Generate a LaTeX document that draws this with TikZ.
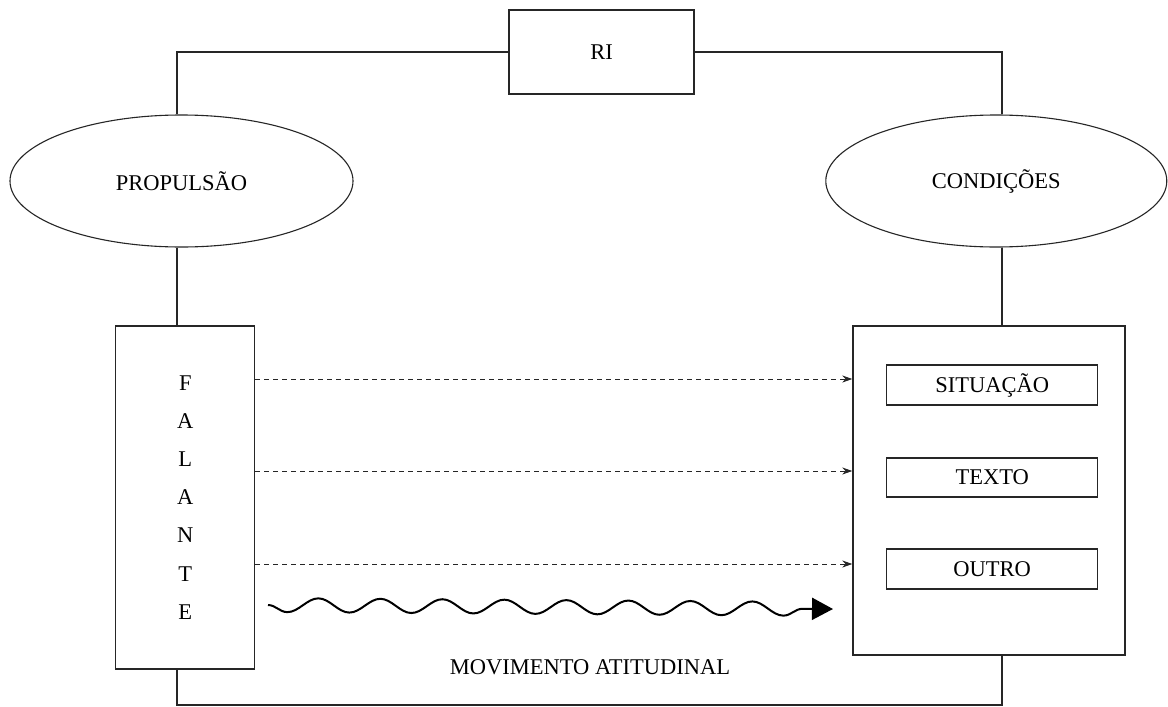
\documentclass[tikz,border=0pt]{standalone}
\usepackage{fontspec}
\setmainfont{Liberation Serif}
\usetikzlibrary{shapes.geometric, arrows.meta, decorations.pathmorphing}

\begin{document}
\begin{tikzpicture}[x=1pt, y=-1pt,
  txt/.style={font=\fontsize{22.5}{26}\selectfont},
  line/.style={draw=black!85, line width=1.2pt},
  box/.style={rectangle, draw=black!85, line width=1.2pt, inner sep=0pt, txt},
  oval/.style={ellipse, draw=black!85, line width=1.1pt, inner sep=0pt, txt},
  dasharrow/.style={draw=black!85, line width=0.9pt, dash pattern=on 5pt off 4pt,
    -{Stealth[length=10pt, width=7pt]}},
  wavearrow/.style={draw=black, line width=2pt, decorate,
    decoration={snake, amplitude=-7pt, segment length=62pt, post length=22pt},
    -{Triangle[length=21pt, width=22pt]}}
]
\fill[white] (0,0) rectangle (1168,707);
\useasboundingbox (0,0) rectangle (1168,707);

% top box and the two ellipses
\node[box, minimum width=185pt, minimum height=84pt] (ri) at (601.5,52) {RI};
\node[oval, minimum width=343pt, minimum height=132pt] (prop) at (181.5,181) {PROPULSÃO};
\node[oval, minimum width=341pt, minimum height=132pt] (cond) at (996.3,181) {CONDIÇÕES};

% speaker column and the conditions panel
\node[box, minimum width=139pt, minimum height=343pt, align=center,
      font=\fontsize{22.5}{38.1}\selectfont] (fal) at (185.3,497.5)
      {F\\A\\L\\A\\N\\T\\E};
\node[box, minimum width=272pt, minimum height=329pt] (panel) at (988.9,490.5) {};
\node[box, minimum width=211pt, minimum height=40pt] (sit) at (992.2,385) {SITUAÇÃO};
\node[box, minimum width=211pt, minimum height=39pt] (tex) at (992.2,477.5) {TEXTO};
\node[box, minimum width=211pt, minimum height=40pt] (out) at (992.2,569) {OUTRO};

% vertical trunk lines and arrow heights
\coordinate (lx) at (177,0);
\coordinate (rx) at (1002,0);
\coordinate (bot) at (0,705);
\coordinate (a1) at (0,379);
\coordinate (a2) at (0,471);
\coordinate (a3) at (0,564);
\coordinate (ws) at (268,605);
\coordinate (we) at (833,609);

% frame connecting everything
\draw[line] (ri.west) -| (lx |- prop.north);
\draw[line] (ri.east) -| (rx |- cond.north);
\draw[line] (lx |- prop.south) -- (lx |- fal.north);
\draw[line] (rx |- cond.south) -- (rx |- panel.north);
\draw[line] (lx |- fal.south) -- (lx |- bot) -| (rx |- panel.south);

% dashed arrows from the speaker to the conditions
\draw[dasharrow] (fal.east |- a1) -- (panel.west |- a1);
\draw[dasharrow] (fal.east |- a2) -- (panel.west |- a2);
\draw[dasharrow] (fal.east |- a3) -- (panel.west |- a3);

% attitudinal movement
\draw[wavearrow] (ws) -- (we);
\node[txt] (mov) at (590,667) {MOVIMENTO ATITUDINAL};
\end{tikzpicture}
\end{document}
